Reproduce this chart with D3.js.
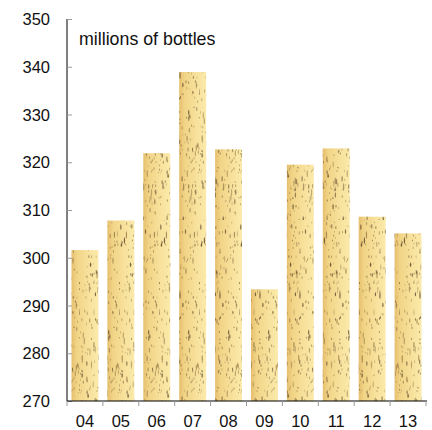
<!DOCTYPE html>
<html>
<head>
<meta charset="utf-8">
<script src="https://cdn.jsdelivr.net/npm/d3@7"></script>
<style>
  body { margin: 0; background: #fff; }
  svg text { font-family: "Liberation Sans", Arial, sans-serif; }
</style>
</head>
<body>
<div id="chart"></div>
<script>
var years = ["04", "05", "06", "07", "08", "09", "10", "11", "12", "13"];
var bottles = [301.6, 307.8, 321.9, 338.9, 322.7, 293.4, 319.5, 322.9, 308.6, 305.1];
var yTicks = [270, 280, 290, 300, 310, 320, 330, 340, 350];

var width = 432, height = 430;
var plotLeft = 67, plotRight = 426, plotTop = 19, plotBottom = 401;

var svg = d3.select("#chart").append("svg")
  .attr("width", width)
  .attr("height", height);

var defs = svg.append("defs");

// cork colour across each bar
var grad = defs.append("linearGradient")
  .attr("id", "cork")
  .attr("x1", "0").attr("x2", "1").attr("y1", "0").attr("y2", "0");
grad.append("stop").attr("offset", "0%").attr("stop-color", "#e6bf6e");
grad.append("stop").attr("offset", "20%").attr("stop-color", "#f1d486");
grad.append("stop").attr("offset", "60%").attr("stop-color", "#f7e09a");
grad.append("stop").attr("offset", "100%").attr("stop-color", "#fbeaaa");

// speckle texture (seeded so it is the same every time)
var seed = 11;
var rnd = function() {
  seed = (seed * 16807) % 2147483647;
  return (seed - 1) / 2147483646;
};
var tileW = 40, tileH = 220;
var pat = defs.append("pattern")
  .attr("id", "specks")
  .attr("patternUnits", "userSpaceOnUse")
  .attr("width", tileW)
  .attr("height", tileH);
for (var i = 0; i < 300; i++) {
  var big = rnd() < 0.3;
  pat.append("ellipse")
    .attr("cx", rnd() * tileW)
    .attr("cy", rnd() * tileH)
    .attr("rx", big ? 0.65 : 0.45)
    .attr("ry", big ? 1.8 + rnd() * 2 : 0.7 + rnd())
    .attr("fill", rnd() < 0.55 ? "#5e4a2c" : "#9c7c48")
    .attr("opacity", 0.3 + rnd() * 0.55);
}

var x = d3.scaleBand()
  .domain(years)
  .range([plotLeft, plotRight])
  .paddingInner(0.25)
  .paddingOuter(0.125);

var y = d3.scaleLinear()
  .domain([270, 350])
  .range([plotBottom, plotTop]);

var bars = svg.append("g");
bars.selectAll("rect.base")
  .data(bottles)
  .join("rect")
  .attr("class", "base")
  .attr("x", function(d, i) { return x(years[i]); })
  .attr("y", function(d) { return y(d); })
  .attr("width", x.bandwidth())
  .attr("height", function(d) { return y(270) - y(d); })
  .attr("fill", "url(#cork)");
bars.selectAll("rect.tex")
  .data(bottles)
  .join("rect")
  .attr("class", "tex")
  .attr("x", function(d, i) { return x(years[i]); })
  .attr("y", function(d) { return y(d); })
  .attr("width", x.bandwidth())
  .attr("height", function(d) { return y(270) - y(d); })
  .attr("fill", "url(#specks)");

// y axis
var yAxis = svg.append("g")
  .attr("transform", "translate(" + plotLeft + ",0)")
  .call(d3.axisRight(y).tickValues(yTicks).tickSize(5).tickFormat(""));
yAxis.select(".domain").attr("stroke", "#000").attr("d", "M0," + plotTop + "V" + plotBottom);
yAxis.selectAll(".tick line").attr("stroke", "#999");

svg.append("g").selectAll("text")
  .data(yTicks)
  .join("text")
  .attr("x", 50)
  .attr("y", function(d) { return y(d) + 6; })
  .attr("text-anchor", "end")
  .attr("font-size", 16.5)
  .attr("fill", "#111")
  .text(function(d) { return d; });

// x axis
var xAxis = svg.append("g")
  .attr("transform", "translate(0," + plotBottom + ")");
xAxis.append("line")
  .attr("x1", plotLeft).attr("x2", plotRight + 1)
  .attr("y1", 0).attr("y2", 0)
  .attr("stroke", "#000");
var bounds = years.map(function(d) { return x(d) - x.step() * x.paddingInner() / 2; });
bounds.push(plotRight);
xAxis.selectAll("line.tk")
  .data(bounds)
  .join("line")
  .attr("class", "tk")
  .attr("x1", function(d) { return d; })
  .attr("x2", function(d) { return d; })
  .attr("y1", 0).attr("y2", 5)
  .attr("stroke", "#999");
xAxis.selectAll("text")
  .data(years)
  .join("text")
  .attr("x", function(d) { return x(d) + x.bandwidth() / 2; })
  .attr("y", 26)
  .attr("text-anchor", "middle")
  .attr("font-size", 16.5)
  .attr("fill", "#111")
  .text(function(d) { return d; });

svg.append("text")
  .attr("x", 79)
  .attr("y", 45)
  .attr("font-size", 17.8)
  .attr("fill", "#111")
  .text("millions of bottles");
</script>
</body>
</html>
